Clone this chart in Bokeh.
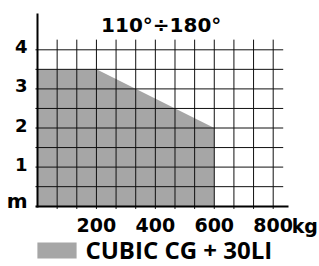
import numpy as np
from bokeh.plotting import figure
from bokeh.models import Range1d, LinearAxis, FixedTicker, Legend, LegendItem
from bokeh.core.properties import value
from bokeh.embed import file_html
from bokeh.resources import INLINE

# ---- data ----
title_text = "110°÷180°"
series_name = "CUBIC CG + 30LI"
load_kg = [0, 0, 200, 600, 600]          # outline of the working area
height_m = [0, 3.5, 3.5, 2.0, 0]
x_ticks = [200, 400, 600, 800]
x_tick_labels = ["200", "400", "600", "800"]
x_unit = "kg"
y_ticks = [1, 2, 3, 4]
y_tick_labels = ["1", "2", "3", "4"]
y_unit = "m"
x_grid = list(np.linspace(0, 800, 13)[1:])   # grid every 66.7 kg
y_grid = [0.5, 1.0, 1.5, 2.0, 2.5, 3.0, 3.5, 4.0]

W, H = 319, 266
p = figure(width=W, height=H,
           x_range=Range1d(-125.6, 957.2), y_range=Range1d(-1.542, 5.261),
           output_backend="svg", toolbar_location=None,
           x_axis_location=None, y_axis_location=None, min_border=0)
p.outline_line_color = None
p.grid.grid_line_color = None
p.background_fill_color = "white"
p.border_fill_color = "white"

BOLD = dict(text_font=value("DejaVu Sans"), text_font_style="bold")

r = p.patch(load_kg, height_m, fill_color="#a6a6a6", line_color=None)

# grid
p.segment(x0=x_grid, y0=[-0.07] * len(x_grid), x1=x_grid, y1=[4.26] * len(x_grid),
          line_color="#111111", line_width=1)
p.segment(x0=[-7] * len(y_grid), y0=y_grid, x1=[834] * len(y_grid), y1=y_grid,
          line_color="#111111", line_width=1)

# axes
xaxis = LinearAxis(fixed_location=0, bounds=(-7, 853), ticker=FixedTicker(ticks=x_ticks),
                   major_label_overrides={t: l for t, l in zip(x_ticks, x_tick_labels)},
                   axis_line_width=2, axis_line_color="black",
                   major_tick_in=0, major_tick_out=0, minor_tick_in=0, minor_tick_out=0,
                   major_tick_line_color=None, minor_tick_line_color=None,
                   major_label_standoff=12,
                   major_label_text_font="DejaVu Sans", major_label_text_font_style="bold",
                   major_label_text_font_size="19px", major_label_text_color="black")
p.add_layout(xaxis, "below")
yaxis = LinearAxis(fixed_location=0, bounds=(-0.03, 4.92), ticker=FixedTicker(ticks=[]),
                   axis_line_width=2, axis_line_color="black",
                   major_tick_in=0, major_tick_out=0, minor_tick_in=0, minor_tick_out=0,
                   major_tick_line_color=None, minor_tick_line_color=None,
                   major_label_text_font_size="0px")
p.add_layout(yaxis, "left")

# y tick labels and units
p.text(x=[0] * len(y_ticks), y=y_ticks, text=y_tick_labels, text_align="right",
       text_baseline="alphabetic", x_offset=-10, y_offset=-3,
       text_font_size="18px", text_color="black", **BOLD)
p.text(x=[0], y=[0], text=[y_unit], text_align="right", text_baseline="alphabetic",
       x_offset=-10, y_offset=-5, text_font_size="20px", text_color="black", **BOLD)
p.text(x=[x_ticks[-1]], y=[0], text=[x_unit], text_align="left", text_baseline="alphabetic",
       x_offset=18.5, y_offset=19.5, text_font_size="19px", text_color="black", **BOLD)

# title
p.text(x=[420], y=[4.63], text=[title_text], text_align="center", text_baseline="alphabetic",
       text_font_size="20px", text_color="black", **BOLD)

legend = Legend(items=[LegendItem(label=series_name, renderers=[r])],
                location=(32.4, 0), glyph_width=49, glyph_height=20,
                padding=0, margin=0, spacing=0, label_standoff=4,
                border_line_color=None, background_fill_alpha=0,
                label_text_font="Open Sans", label_text_font_style="bold",
                label_text_font_size="24px", label_text_color="black")
p.add_layout(legend)

open("out.html", "w").write(file_html(p, INLINE))
